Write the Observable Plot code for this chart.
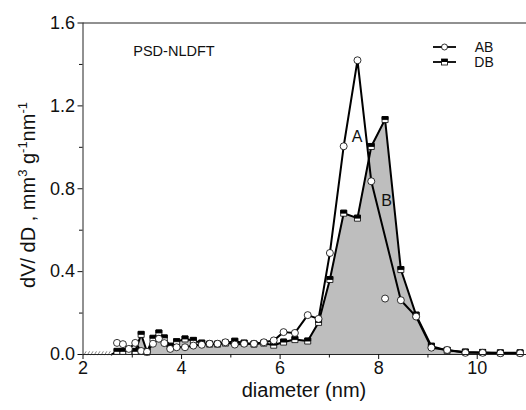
<!DOCTYPE html>
<html><head><meta charset="utf-8">
<script src="https://cdn.jsdelivr.net/npm/d3@7"></script>
<script src="https://cdn.jsdelivr.net/npm/@observablehq/plot@0.6"></script>
<style>body{margin:0;background:#fff;} svg{display:block;}</style>
</head><body><div id="chart"></div>
<script>
// ---- data ----
const diameters = [2.69,2.81,2.93,3.06,3.18,3.30,3.42,3.54,3.65,3.77,3.90,4.07,4.24,4.41,4.57,4.73,4.89,5.08,5.27,5.47,5.67,5.87,6.07,6.30,6.56,6.78,7.01,7.29,7.57,7.85,8.13,8.45,8.76,9.07,9.39,9.76,10.11,10.47,10.87];
const abValues = [0.056,0.050,0.027,0.056,0.017,0.013,0.052,0.076,0.055,0.027,0.035,0.035,0.043,0.047,0.052,0.052,0.059,0.048,0.052,0.052,0.059,0.068,0.108,0.104,0.190,0.172,0.490,1.005,1.420,0.836,0.270,0.262,0.183,0.033,0.022,0.008,0.008,0.006,0.006];
const dbValues = [0.015,0.015,0.015,0.015,0.097,0.012,0.078,0.104,0.080,0.040,0.062,0.075,0.068,0.055,0.050,0.050,0.055,0.064,0.055,0.050,0.055,0.045,0.060,0.072,0.065,0.155,0.362,0.682,0.658,1.004,1.134,0.410,0.190,0.040,0.020,0.012,0.010,0.008,0.008];
const dbStart = [2.58, 0];            // DB curve leaves the baseline here
const abOffLine = [8.13];             // AB point not joined by the AB curve
const zeroDiameters = [2.04,2.11,2.18,2.25,2.32,2.39,2.46,2.53]; // zero-valued points along the axis
const xTicks = [2,4,6,8,10];
const xMinor = [3,5,7,9];
const yTicks = [0,0.4,0.8,1.2,1.6];
const yMinor = [0.2,0.6,1.0,1.4];
const labels = [{x:7.56, y:1.05, t:"A"}, {x:8.16, y:0.74, t:"B"}];
const title = {x:3.02, y:1.465, t:"PSD-NLDFT"};
const seriesNames = ["AB","DB"];

// ---- tables ----
const ab = diameters.map((d,i)=>({x:d, y:abValues[i]}));
const abLine = ab.filter(p=>!abOffLine.includes(p.x));
const dbPts = diameters.map((d,i)=>({x:d, y:dbValues[i]}));
const db = [{x:dbStart[0], y:dbStart[1]}, ...dbPts];
const zeros = zeroDiameters.map(d=>({x:d, y:0.006}));

// custom symbols
const sq = {draw(ctx,size){const s=Math.sqrt(size)/2;ctx.moveTo(-s,-s);ctx.lineTo(s,-s);ctx.lineTo(s,s);ctx.lineTo(-s,s);ctx.closePath();}};
const sqTop = {draw(ctx,size){const s=Math.sqrt(size)/2;ctx.moveTo(-s,-s);ctx.lineTo(s,-s);ctx.lineTo(s,0);ctx.lineTo(-s,0);ctx.closePath();}};
const slash = {draw(ctx,size){const s=Math.sqrt(size)/2;ctx.moveTo(-s*0.6,s);ctx.lineTo(s*0.6,-s);}};

const font = "Liberation Sans, Arial, Helvetica, sans-serif";

const chart = Plot.plot({
  width: 526, height: 410,
  marginLeft: 82.5, marginRight: 0, marginTop: 22.5, marginBottom: 56,
  style: {fontFamily: font, fontSize: "18px", color: "#111", background: "#fff", overflow: "visible"},
  x: {domain: [2, 11]},
  y: {domain: [0, 1.6]},
  marks: [
    Plot.areaY(db, {x:"x", y:"y", fill:"#bebebe"}),
    Plot.line(db, {x:"x", y:"y", stroke:"#000", strokeWidth:2}),
    Plot.line(abLine, {x:"x", y:"y", stroke:"#000", strokeWidth:2}),
    Plot.dot(dbPts, {x:"x", y:"y", symbol: sq, r:3.4, fill:"#fff", stroke:"#000", strokeWidth:0.8}),
    Plot.dot(dbPts, {x:"x", y:"y", symbol: sqTop, r:3.4, fill:"#000", stroke:"#000", strokeWidth:0.8}),
    Plot.dot(ab, {x:"x", y:"y", r:3.5, fill:"#fff", stroke:"#000", strokeWidth:0.8}),
    Plot.dot(zeros, {x:"x", y:"y", symbol: slash, r:2.2, stroke:"#777", strokeWidth:0.9}),
    Plot.ruleY([0], {stroke:"#222", strokeWidth:1}),
    Plot.ruleY([1.6], {stroke:"#222", strokeWidth:1}),
    Plot.ruleX([2], {stroke:"#222", strokeWidth:1}),
    Plot.axisX({ticks: xTicks, tickSize: 5, tickPadding: 2, fontSize: 18, label: null, tickFormat: d=>String(d)}),
    Plot.axisX({ticks: xMinor, tickSize: 3.5, tickFormat: ()=>"", label: null}),
    Plot.axisY({ticks: yTicks, tickSize: 5, tickPadding: 3, fontSize: 18, label: null, tickFormat: d3.format(".1f")}),
    Plot.axisY({ticks: yMinor, tickSize: 3.5, tickFormat: ()=>"", label: null}),
    Plot.text(labels, {x:"x", y:"y", text:"t", fontSize: 16, fill:"#111"}),
    Plot.text([title], {x:"x", y:"y", text:"t", fontSize: 14.5, textAnchor:"start", fill:"#111"})
  ]
});
document.getElementById("chart").appendChild(chart);

// axis titles and legend
const svg = d3.select(chart);
svg.append("text").attr("x", 304).attr("y", 397).attr("text-anchor","middle")
  .attr("font-family", font).attr("font-size", 20).attr("fill","#111").text("diameter (nm)");
const yl = svg.append("text").attr("transform","translate(35,195) rotate(-90)").attr("text-anchor","middle")
  .attr("font-family", font).attr("font-size", 20).attr("fill","#111");
yl.append("tspan").text("dV/ dD , mm");
yl.append("tspan").attr("dy",-8).attr("font-size",13).text("3");
yl.append("tspan").attr("dy",8).text(" g");
yl.append("tspan").attr("dy",-8).attr("font-size",13).text("-1");
yl.append("tspan").attr("dy",8).text("nm");
yl.append("tspan").attr("dy",-8).attr("font-size",13).text("-1");

const lg = svg.append("g").attr("font-family", font).attr("font-size", 14).attr("fill","#111");
seriesNames.forEach((name,i)=>{
  const y = 47 + i*15;
  lg.append("line").attr("x1",433).attr("x2",456).attr("y1",y).attr("y2",y).attr("stroke","#000").attr("stroke-width",1.8);
  if (name === "AB") {
    lg.append("circle").attr("cx",444.5).attr("cy",y).attr("r",3).attr("fill","#fff").attr("stroke","#000").attr("stroke-width",0.8);
  } else {
    lg.append("rect").attr("x",441.5).attr("y",y-3).attr("width",6).attr("height",6).attr("fill","#fff").attr("stroke","#000").attr("stroke-width",0.8);
    lg.append("rect").attr("x",441.5).attr("y",y-3).attr("width",6).attr("height",3).attr("fill","#000");
  }
  lg.append("text").attr("x",484).attr("y",y+5).text(name);
});
</script>
</body></html>
